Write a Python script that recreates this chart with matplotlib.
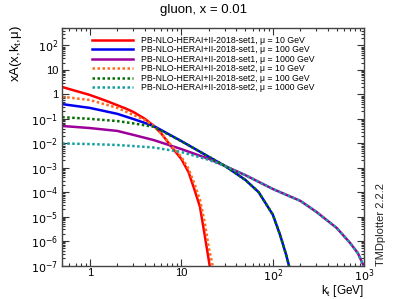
import numpy as np
import matplotlib.pyplot as plt
from matplotlib.ticker import LogLocator, FixedLocator, NullFormatter

plt.rcParams['font.family'] = ['Liberation Sans', 'DejaVu Sans']

# set1 (solid) and set2 (dotted)
kt_red = [0.5, 1, 1.5, 2, 2.5, 3, 4, 5, 6, 8, 10, 12, 14, 16, 18, 20.4, 22]
red = [2.0, 0.95, 0.55, 0.36, 0.26, 0.19, 0.10, 0.052, 0.026, 0.0064, 0.0023,
       6.6e-4, 1.2e-4, 2.5e-5, 1.8e-6, 1e-7, 1e-8]

kt_orange = [0.5, 1, 2, 3, 4, 5, 6, 8, 10, 12, 14, 16, 18, 20, 22, 24]
orange = [0.8, 0.59, 0.28, 0.145, 0.089, 0.051, 0.026, 0.0071, 0.0028,
          9e-4, 2.1e-4, 4.8e-5, 6e-6, 5.2e-7, 1e-7, 1e-8]

kt_blue = [0.5, 1, 2, 3, 5, 10, 20, 30, 50, 70, 100, 120, 140, 150, 160]
blue = [0.40, 0.28, 0.16, 0.098, 0.051, 0.0123, 0.0028, 0.00118, 3.2e-4,
        1.0e-4, 1.2e-5, 1.8e-6, 2.7e-7, 1e-7, 2e-8]

kt_green = [0.5, 1, 2, 3, 5, 10, 20, 30, 50, 70, 100, 120, 140, 150, 160]
green = [0.117, 0.10, 0.081, 0.065, 0.047, 0.0122, 0.0028, 0.00118, 3.2e-4,
         1.0e-4, 1.2e-5, 1.8e-6, 2.7e-7, 1e-7, 2e-8]

kt_purple = [0.5, 1, 2, 3, 5, 10, 20, 30, 50, 100, 200, 300, 500, 700,
             850, 950, 1000]
purple = [0.051, 0.042, 0.032, 0.022, 0.0135, 0.0058, 0.0023, 0.00118,
          5.0e-4, 1.35e-4, 4.4e-5, 1.55e-5, 3.4e-6, 8.3e-7, 3.2e-7,
          1.27e-7, 9e-8]

kt_teal = [0.5, 1, 2, 3, 5, 10, 20, 30, 50, 100, 200, 300, 500, 700,
           850, 950, 1000]
teal = [0.0098, 0.0093, 0.0085, 0.0077, 0.0067, 0.0044, 0.0021, 0.00118,
        5.0e-4, 1.35e-4, 4.4e-5, 1.55e-5, 3.4e-6, 8.3e-7, 3.2e-7,
        1.27e-7, 9e-8]

labels = ['PB-NLO-HERAI+II-2018-set1, μ = 10 GeV',
          'PB-NLO-HERAI+II-2018-set1, μ = 100 GeV',
          'PB-NLO-HERAI+II-2018-set1, μ = 1000 GeV',
          'PB-NLO-HERAI+II-2018-set2, μ = 10 GeV',
          'PB-NLO-HERAI+II-2018-set2, μ = 100 GeV',
          'PB-NLO-HERAI+II-2018-set2, μ = 1000 GeV']

fig = plt.figure(figsize=(4.08, 2.99), dpi=100)
ax = fig.add_axes([0.1525, 0.112, 0.7405, 0.793])

dot = (0, (1, 1))
ax.plot(kt_red, red, color='#ff0000', lw=1.8, label=labels[0])
ax.plot(kt_blue, blue, color='#0000ee', lw=1.8, label=labels[1])
ax.plot(kt_purple, purple, color='#9b009b', lw=1.8, label=labels[2])
ax.plot(kt_orange, orange, color='#ff6a1a', lw=1.8, ls=dot, label=labels[3])
ax.plot(kt_green, green, color='#006e00', lw=1.8, ls=dot, label=labels[4])
ax.plot(kt_teal, teal, color='#14a0a0', lw=1.8, ls=dot, label=labels[5])

ax.set_xscale('log')
ax.set_yscale('log')
ax.set_xlim(0.5, 1000)
ax.set_ylim(1e-7, 500)

ax.xaxis.set_major_locator(FixedLocator([1, 10, 100, 1000]))
ax.set_xticklabels(['1', '10', r'$10^2$', r'$10^3$'])
ax.xaxis.set_minor_locator(LogLocator(base=10, subs=np.arange(2, 10), numticks=20))
ax.xaxis.set_minor_formatter(NullFormatter())

yt = [1e-7, 1e-6, 1e-5, 1e-4, 1e-3, 1e-2, 1e-1, 1, 10, 100]
ax.yaxis.set_major_locator(FixedLocator(yt))
ax.set_yticklabels([r'$10^{-7}$', r'$10^{-6}$', r'$10^{-5}$', r'$10^{-4}$',
                    r'$10^{-3}$', r'$10^{-2}$', r'$10^{-1}$', '1', '10',
                    r'$10^2$'])
ax.yaxis.set_minor_locator(LogLocator(base=10, subs=np.arange(2, 10), numticks=20))
ax.yaxis.set_minor_formatter(NullFormatter())

ax.tick_params(which='both', direction='in', top=True, right=True,
               labelsize=8, color='#333333', width=0.8)
ax.tick_params(which='major', length=5, pad=3)
ax.tick_params(axis='x', which='major', pad=1.5)
ax.tick_params(which='minor', length=2.5)
for s in ax.spines.values():
    s.set_linewidth(1.0)
    s.set_color('#444444')

leg = ax.legend(loc='upper left', bbox_to_anchor=(0.08, 0.99), frameon=False,
                fontsize=6.3, handlelength=4.7, handletextpad=0.9,
                labelspacing=0.05, borderaxespad=0.2)

fig.text(0.5, 0.965, 'gluon, x = 0.01', ha='center', va='center', fontsize=9.5)
fig.text(0.038, 0.915, r'xA(x,k$_\mathregular{t}$,μ)', rotation=90,
         ha='center', va='top', fontsize=9.5)
fig.text(0.893, 0.0, r'k$_\mathregular{t}$ [GeV]', ha='right', va='bottom',
         fontsize=8.5)
fig.text(0.935, 0.112, 'TMDplotter 2.2.2', rotation=90, ha='center',
         va='bottom', fontsize=8, color='#222222')

fig.savefig('out.png', dpi=100)
